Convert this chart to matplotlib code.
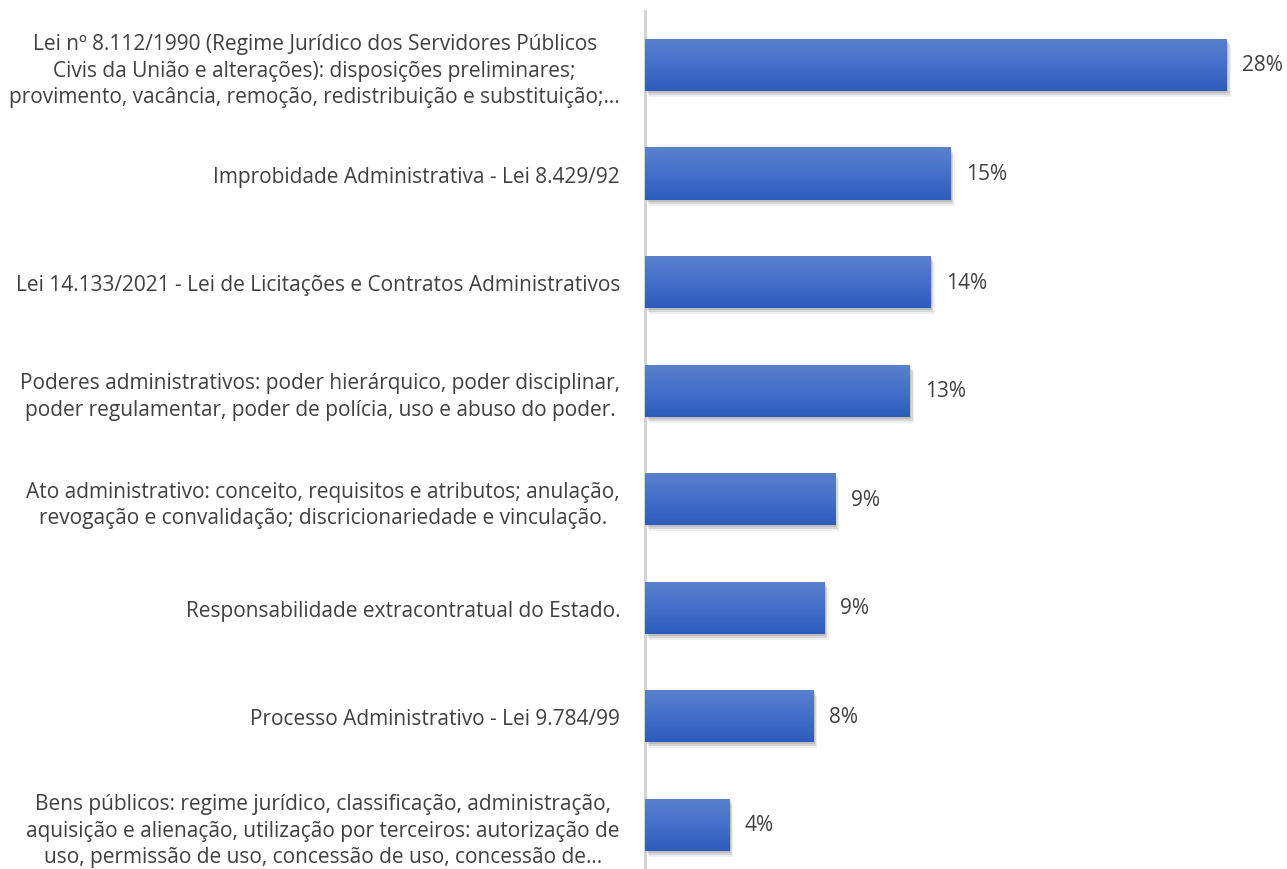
import numpy as np
import matplotlib.pyplot as plt
import matplotlib.patheffects as pe
from matplotlib.colors import LinearSegmentedColormap

topics = [
    "Lei nº 8.112/1990 (Regime Jurídico dos Servidores Públicos\nCivis da União e alterações): disposições preliminares;\nprovimento, vacância, remoção, redistribuição e substituição;…",
    "Improbidade Administrativa - Lei 8.429/92",
    "Lei 14.133/2021 - Lei de Licitações e Contratos Administrativos",
    "Poderes administrativos: poder hierárquico, poder disciplinar,\npoder regulamentar, poder de polícia, uso e abuso do poder.",
    "Ato administrativo: conceito, requisitos e atributos; anulação,\nrevogação e convalidação; discricionariedade e vinculação.",
    "Responsabilidade extracontratual do Estado.",
    "Processo Administrativo - Lei 9.784/99",
    "Bens públicos: regime jurídico, classificação, administração,\naquisição e alienação, utilização por terceiros: autorização de\nuso, permissão de uso, concessão de uso, concessão de…",
]
values = [28.0, 14.7, 13.75, 12.75, 9.15, 8.65, 8.1, 4.05]
value_labels = ["28%", "15%", "14%", "13%", "9%", "9%", "8%", "4%"]

plt.rcParams['font.family'] = ['Open Sans', 'DejaVu Sans']

fig = plt.figure(figsize=(12.87, 8.70), dpi=100)
ax = fig.add_axes([645/1287, 0, 1 - 645/1287, 1 - 11.7/870])

n = len(values)
ypos = np.arange(n)[::-1]
bar_h = 0.48

grad = np.linspace(0, 1, 100).reshape(-1, 1)
cmap = LinearSegmentedColormap.from_list('g', ['#2e5cbc', '#4470cb', '#5a80cd'])

# soft shadow: a few stacked translucent offsets
shadow = [pe.SimplePatchShadow(offset=(1, -1.5), shadow_rgbFace='#000000', alpha=0.12),
          pe.SimplePatchShadow(offset=(2, -3), shadow_rgbFace='#000000', alpha=0.10),
          pe.SimplePatchShadow(offset=(3, -4.5), shadow_rgbFace='#000000', alpha=0.06),
          pe.Normal()]
bars = ax.barh(ypos, values, height=bar_h, color='#4472c4', zorder=2, path_effects=shadow)
for b in bars:
    x0, y0 = b.get_x(), b.get_y()
    w, h = b.get_width(), b.get_height()
    im = ax.imshow(grad, extent=[x0, x0 + w, y0, y0 + h], origin='lower', aspect='auto',
                   cmap=cmap, zorder=3)
    im.set_clip_path(b)

for y, v, lab in zip(ypos, values, value_labels):
    ax.text(v + 0.75, y, lab, va='center', ha='left', fontsize=15, color='#404040')

ax.set_xlim(0, 30.9)
ax.set_ylim(-0.5 + 10/108.57, 7.5)
ax.set_yticks(ypos)
ax.set_yticklabels(topics, fontsize=15, color='#404040', multialignment='center',
                   linespacing=1.35)
ax.tick_params(axis='y', length=0, pad=18)
ax.set_xticks([])
for s in ['top', 'right', 'bottom']:
    ax.spines[s].set_visible(False)
ax.spines['left'].set_color('#d0d0d0')
ax.spines['left'].set_linewidth(2)

fig.savefig('out.png', dpi=100)
